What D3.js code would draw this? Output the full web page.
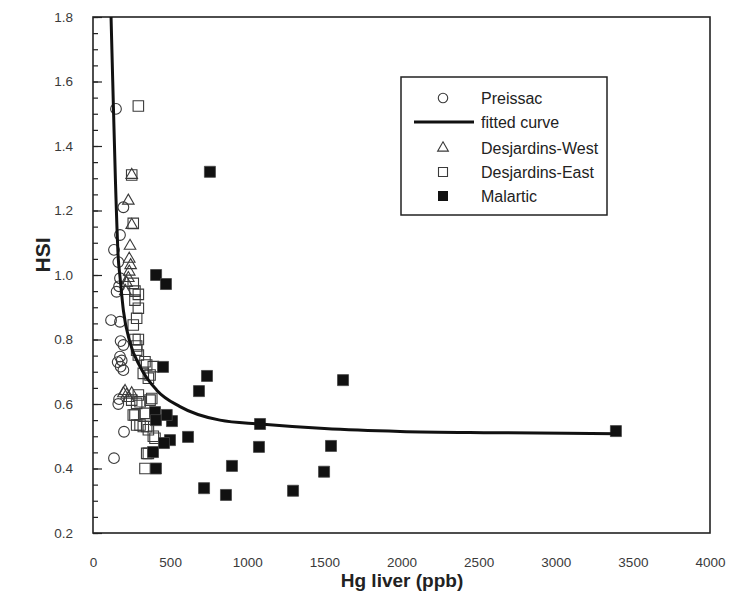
<!DOCTYPE html>
<html><head><meta charset="utf-8">
<script src="https://cdn.jsdelivr.net/npm/d3@7"></script>
<style>
body{margin:0;background:#fff;}
svg{display:block;font-family:"Liberation Sans",Arial,sans-serif;}
</style></head>
<body>
<svg id="chart" width="733" height="612"></svg>
<script>
// ---- data ----
const preissacX = [149,197,175,136,164,175,169,153,117,175,179,197,175,186,179,197,160,164,169,201,136];
const preissacY = [1.515,1.21,1.124,1.078,1.04,0.99,0.965,0.948,0.86,0.855,0.795,0.783,0.747,0.735,0.716,0.705,0.73,0.60,0.615,0.514,0.432];

const westX = [251,229,251,240,235,244,235,229,218,210,197,218,229,251,208];
const westY = [1.31,1.23,1.155,1.09,1.05,1.03,1.01,0.99,0.975,0.95,0.633,0.628,0.618,0.633,0.64];

const eastX = [294,251,261,261,272,294,272,294,283,261,294,272,283,294,283,337,348,391,326,370,359,294,251,305,283,381,370,261,272,337,283,305,326,348,359,391,402,348,359,337];
const eastY = [1.524,1.31,1.16,0.974,0.95,0.94,0.922,0.897,0.866,0.845,0.80,0.80,0.78,0.752,0.767,0.731,0.721,0.716,0.695,0.69,0.68,0.628,0.612,0.607,0.602,0.617,0.612,0.566,0.566,0.571,0.535,0.535,0.53,0.53,0.52,0.5,0.494,0.447,0.447,0.40];

const malarticX = [758,409,473,454,739,687,402,408,512,1083,616,499,460,389,408,1076,901,720,862,1297,1498,1543,1621,3390,478];
const malarticY = [1.32,1.0,0.972,0.715,0.687,0.64,0.575,0.55,0.547,0.538,0.498,0.488,0.479,0.451,0.40,0.467,0.408,0.339,0.318,0.331,0.39,0.47,0.674,0.516,0.566];

const curveX = [117,128,145,164,175,197,240,305,413,564,823,1083,1500,1991,2600,3390];
const curveY = [1.80,1.60,1.30,1.05,0.995,0.89,0.79,0.716,0.643,0.592,0.55,0.538,0.524,0.515,0.511,0.508];

const xTicks = [0,500,1000,1500,2000,2500,3000,3500,4000];
const yTicks = [0.2,0.4,0.6,0.8,1.0,1.2,1.4,1.6,1.8];
const yMinorTicks = d3.range(0.2,1.8001,0.05).map(v=>+v.toFixed(2));

const legendLabels = ["Preissac","fitted curve","Desjardins-West","Desjardins-East","Malartic"];

// ---- drawing ----
const svg = d3.select("#chart");
const x = d3.scaleLinear().domain([0,4000]).range([93,710]);
const y = d3.scaleLinear().domain([0.2,1.8]).range([533,17]);

const ink = "#222";
const mark = "#3a3a3a";

// y minor ticks
svg.append("g").attr("transform","translate(93,0)")
  .call(d3.axisLeft(y).tickValues(yMinorTicks).tickSizeInner(-5).tickSizeOuter(0).tickFormat(""))
  .call(g=>g.select(".domain").remove())
  .call(g=>g.selectAll("line").attr("stroke",ink).attr("stroke-width",1.2));

// y major ticks + labels
svg.append("g").attr("transform","translate(93,0)")
  .call(d3.axisLeft(y).tickValues(yTicks).tickSizeInner(-9).tickSizeOuter(0).tickPadding(20).tickFormat(d3.format(".1f")))
  .call(g=>g.select(".domain").remove())
  .call(g=>g.selectAll("line").attr("stroke",ink).attr("stroke-width",1.2))
  .call(g=>g.selectAll("text").attr("font-size",13.5).attr("fill","#3a3a3a").attr("font-family","Liberation Sans, Arial, sans-serif"));

// x labels
svg.append("g").attr("transform","translate(0,533)")
  .call(d3.axisBottom(x).tickValues(xTicks).tickSize(0).tickPadding(24).tickFormat(d3.format("d")))
  .call(g=>g.select(".domain").remove())
  .call(g=>g.selectAll("text").attr("font-size",13.5).attr("fill","#3a3a3a").attr("font-family","Liberation Sans, Arial, sans-serif"));

// frame
svg.append("rect").attr("x",x(0)).attr("y",y(1.8)).attr("width",x(4000)-x(0)).attr("height",y(0.2)-y(1.8))
  .attr("fill","none").attr("stroke",ink).attr("stroke-width",1.6);

// axis titles
svg.append("text").attr("x",402).attr("y",587).attr("text-anchor","middle")
  .attr("font-size",19).attr("font-weight","bold").attr("fill",ink).text("Hg liver (ppb)");
svg.append("text").attr("transform","translate(50,255) rotate(-90)").attr("text-anchor","middle")
  .attr("font-size",21).attr("font-weight","bold").attr("fill",ink).text("HSI");

const sym = (type,size)=>d3.symbol().type(type).size(size)();
const zip = (xs,ys)=>xs.map((v,i)=>({x:v,y:ys[i]}));

const plot = svg.append("g");
// open squares
plot.selectAll(".east").data(zip(eastX,eastY)).join("path").attr("class","east")
  .attr("d",sym(d3.symbolSquare,110)).attr("transform",d=>`translate(${x(d.x)},${y(d.y)})`)
  .attr("fill","none").attr("stroke",mark).attr("stroke-width",1.1);
// triangles
plot.selectAll(".west").data(zip(westX,westY)).join("path").attr("class","west")
  .attr("d",sym(d3.symbolTriangle,58)).attr("transform",d=>`translate(${x(d.x)},${y(d.y)})`)
  .attr("fill","none").attr("stroke",mark).attr("stroke-width",1.1);
// circles
plot.selectAll(".pre").data(zip(preissacX,preissacY)).join("path").attr("class","pre")
  .attr("d",sym(d3.symbolCircle,90)).attr("transform",d=>`translate(${x(d.x)},${y(d.y)})`)
  .attr("fill","none").attr("stroke",mark).attr("stroke-width",1.1);
// filled squares
plot.selectAll(".mal").data(zip(malarticX,malarticY)).join("path").attr("class","mal")
  .attr("d",sym(d3.symbolSquare,121)).attr("transform",d=>`translate(${x(d.x)},${y(d.y)})`)
  .attr("fill","#111").attr("stroke","#444").attr("stroke-width",0.8);

// fitted curve
plot.append("path").datum(zip(curveX,curveY))
  .attr("d",d3.line().x(d=>x(d.x)).y(d=>y(d.y)).curve(d3.curveMonotoneX))
  .attr("fill","none").attr("stroke","#111").attr("stroke-width",3);

// legend
const lg = svg.append("g");
lg.append("rect").attr("x",401).attr("y",77).attr("width",206).attr("height",138)
  .attr("fill","#fff").attr("stroke",ink).attr("stroke-width",1.5);
const rowY = [98,122,148,172,196];
legendLabels.forEach((t,i)=>{
  lg.append("text").attr("x",481).attr("y",rowY[i]+5.5).attr("font-size",16).attr("fill",ink).text(t);
});
lg.append("path").attr("d",sym(d3.symbolCircle,70)).attr("transform",`translate(443,${rowY[0]})`)
  .attr("fill","none").attr("stroke",mark).attr("stroke-width",1.1);
lg.append("line").attr("x1",414).attr("x2",474).attr("y1",rowY[1]).attr("y2",rowY[1])
  .attr("stroke","#111").attr("stroke-width",3);
lg.append("path").attr("d",sym(d3.symbolTriangle,50)).attr("transform",`translate(443,${rowY[2]})`)
  .attr("fill","none").attr("stroke",mark).attr("stroke-width",1.1);
lg.append("path").attr("d",sym(d3.symbolSquare,81)).attr("transform",`translate(443,${rowY[3]})`)
  .attr("fill","none").attr("stroke",mark).attr("stroke-width",1.1);
lg.append("path").attr("d",sym(d3.symbolSquare,100)).attr("transform",`translate(443,${rowY[4]})`)
  .attr("fill","#111");
</script>
</body></html>
